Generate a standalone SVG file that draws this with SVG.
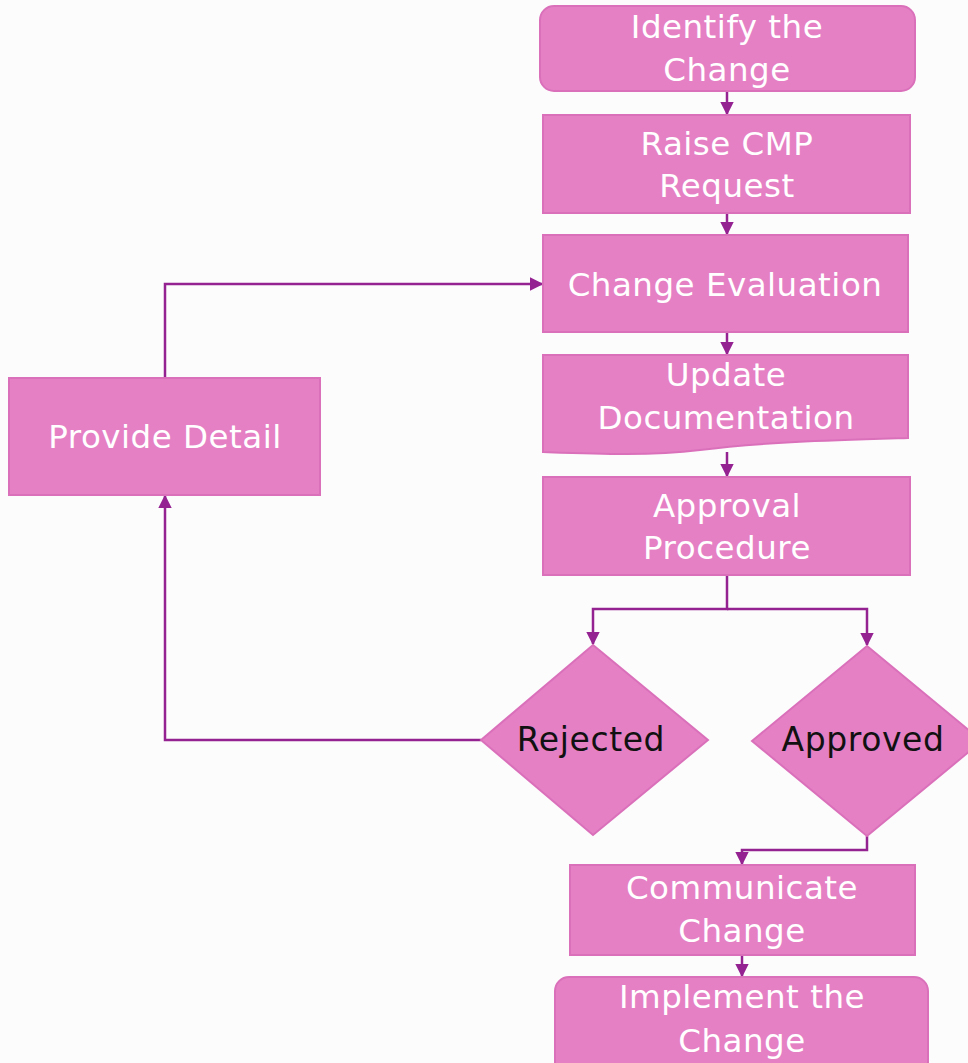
<svg xmlns="http://www.w3.org/2000/svg" width="968" height="1063" viewBox="0 0 968 1063">
<defs>
<style>
.n{fill:#E580C5;stroke:#DA70BA;stroke-width:2}
.t{fill:#FFFFFF;font-family:"DejaVu Sans","Noto Sans",sans-serif;font-size:32.5px;text-anchor:middle;letter-spacing:0.5px}
.d{fill:#111111;font-family:"DejaVu Sans","Noto Sans",sans-serif;font-size:33px;text-anchor:middle;letter-spacing:0.6px}
.c{fill:none;stroke:#952291;stroke-width:2.5}
</style>
<marker id="ah" viewBox="0 0 10 10" refX="9" refY="5" markerWidth="5.5" markerHeight="5.5" orient="auto" markerUnits="strokeWidth">
<path d="M0,0 L10,5 L0,10 z" fill="#952291"/>
</marker>
</defs>
<rect width="968" height="1063" fill="#FDFCFD"/>
<g id="connectors">
<path class="c" d="M727,91 V114" marker-end="url(#ah)"/>
<path class="c" d="M727,213 V234" marker-end="url(#ah)"/>
<path class="c" d="M727,332 V354" marker-end="url(#ah)"/>
<path class="c" d="M727,452 V476" marker-end="url(#ah)"/>
<path class="c" d="M727,575 V609 H593 V644" marker-end="url(#ah)"/>
<path class="c" d="M727,609 H867 V645" marker-end="url(#ah)"/>
<path class="c" d="M481,740 H165 V496" marker-end="url(#ah)"/>
<path class="c" d="M165,378 V284 H542" marker-end="url(#ah)"/>
<path class="c" d="M867,836 V850 H742 V864" marker-end="url(#ah)"/>
<path class="c" d="M742,955 V976" marker-end="url(#ah)"/>
</g>
<g id="identify">
<rect class="n" x="540" y="6" width="375" height="85" rx="14"/>
<text class="t" x="727" y="38">Identify the</text>
<text class="t" x="727" y="81">Change</text>
</g>
<g id="raise">
<rect class="n" x="543" y="115" width="367" height="98"/>
<text class="t" x="727" y="155">Raise CMP</text>
<text class="t" x="727" y="197">Request</text>
</g>
<g id="evaluation">
<rect class="n" x="543" y="235" width="365" height="97"/>
<text class="t" x="725" y="296">Change Evaluation</text>
</g>
<g id="update">
<path class="n" d="M543,355 H908 V438 C840,440 760,442 700,450 C650,456 600,454 543,452 Z"/>
<text class="t" x="726" y="386">Update</text>
<text class="t" x="726" y="429">Documentation</text>
</g>
<g id="approval">
<rect class="n" x="543" y="477" width="367" height="98"/>
<text class="t" x="727" y="517">Approval</text>
<text class="t" x="727" y="559">Procedure</text>
</g>
<g id="rejected">
<polygon class="n" points="593,645 708,740 593,835 481,740"/>
<text class="d" x="591" y="751">Rejected</text>
</g>
<g id="approved">
<polygon class="n" points="867,646 982,741 867,836 752,741"/>
<text class="d" x="863" y="751">Approved</text>
</g>
<g id="provide">
<rect class="n" x="9" y="378" width="311" height="117"/>
<text class="t" x="165" y="448">Provide Detail</text>
</g>
<g id="communicate">
<rect class="n" x="570" y="865" width="345" height="90"/>
<text class="t" x="742" y="899">Communicate</text>
<text class="t" x="742" y="942">Change</text>
</g>
<g id="implement">
<rect class="n" x="555" y="977" width="373" height="100" rx="14"/>
<text class="t" x="742" y="1008">Implement the</text>
<text class="t" x="742" y="1052">Change</text>
</g>
</svg>
